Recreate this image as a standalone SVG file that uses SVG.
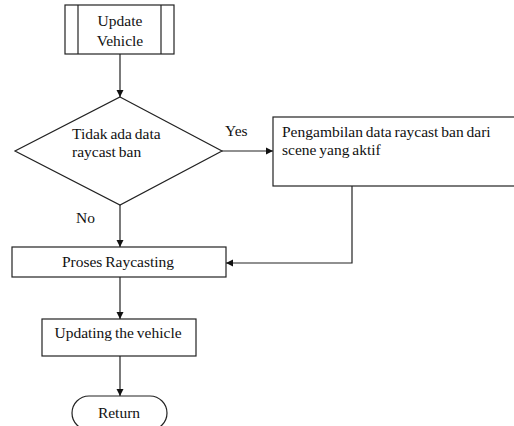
<svg xmlns="http://www.w3.org/2000/svg" width="514" height="426" viewBox="0 0 514 426">
  <defs>
    <marker id="arrow" markerWidth="8" markerHeight="8" refX="7" refY="4" orient="auto" markerUnits="userSpaceOnUse">
      <path d="M0,0.5 L7,4 L0,7.5 Z" fill="#111"/>
    </marker>
    <style>
      .shape { fill: #fff; stroke: #222; stroke-width: 1.2; }
      .edge { fill: none; stroke: #222; stroke-width: 1.2; }
      .label { font-family: "Liberation Serif", "Times New Roman", serif; font-size: 15.5px; word-spacing: -1px; fill: #111; }
      .mid { text-anchor: middle; }
    </style>
  </defs>
  <rect width="514" height="426" fill="#fff"/>

  <g id="connectors">
    <line class="edge" x1="120" y1="54" x2="120" y2="97" marker-end="url(#arrow)"/>
    <line class="edge" x1="222" y1="151" x2="273" y2="151" marker-end="url(#arrow)"/>
    <line class="edge" x1="120" y1="205" x2="120" y2="247" marker-end="url(#arrow)"/>
    <polyline class="edge" points="352,186 352,263 226,263" marker-end="url(#arrow)"/>
    <line class="edge" x1="120" y1="277" x2="120" y2="319" marker-end="url(#arrow)"/>
    <line class="edge" x1="120" y1="356" x2="120" y2="396" marker-end="url(#arrow)"/>
    <text class="label" x="225" y="136">Yes</text>
    <text class="label" x="76" y="223">No</text>
  </g>

  <g id="update-vehicle">
    <rect class="shape" x="65" y="5" width="109" height="49"/>
    <line class="edge" x1="78" y1="5" x2="78" y2="54"/>
    <line class="edge" x1="161" y1="5" x2="161" y2="54"/>
    <text class="label mid" x="120" y="26">Update</text>
    <text class="label mid" x="120" y="46">Vehicle</text>
  </g>

  <g id="check-raycast">
    <polygon class="shape" points="120,97 222,151 120,205 15,151"/>
    <text class="label" x="72" y="139">Tidak ada data</text>
    <text class="label" x="72" y="157">raycast ban</text>
  </g>

  <g id="fetch-raycast">
    <rect class="shape" x="273" y="117" width="250" height="69"/>
    <text class="label" x="282" y="137">Pengambilan data raycast ban dari</text>
    <text class="label" x="282" y="155">scene yang aktif</text>
  </g>

  <g id="raycasting">
    <rect class="shape" x="12" y="247" width="214" height="30"/>
    <text class="label mid" x="118" y="267">Proses Raycasting</text>
  </g>

  <g id="updating">
    <rect class="shape" x="42" y="319" width="154" height="37"/>
    <text class="label mid" x="118" y="338">Updating the vehicle</text>
  </g>

  <g id="return">
    <rect class="shape" x="72" y="396" width="95" height="34" rx="17" ry="17"/>
    <text class="label mid" x="119" y="418">Return</text>
  </g>
</svg>
